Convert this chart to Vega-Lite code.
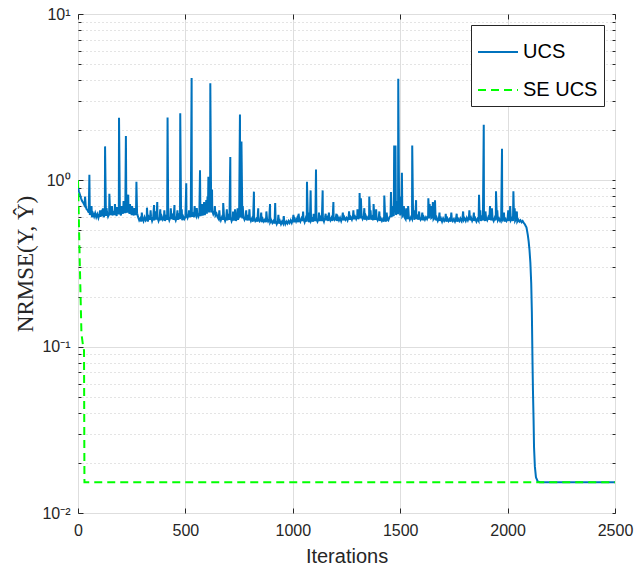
{
"$schema": "https://vega.github.io/schema/vega-lite/v6.json",
"width": 537, "height": 499,
"autosize": {"type": "none"},
"padding": {"left": 78, "top": 14, "right": 20, "bottom": 53},
"background": "white",
"config": {
  "view": {"stroke": "#262626", "strokeWidth": 1},
  "font": "Liberation Sans",
  "legend": {"orient": "top-right", "offset": 11, "symbolType": "stroke", "symbolSize": 1600, "symbolStrokeWidth": 2, "labelFontSize": 20, "labelFont": "Liberation Sans", "labelColor": "#000000", "strokeColor": "#262626", "fillColor": "white", "padding": 6, "rowPadding": 7, "labelOffset": 4, "labelLimit": 200}
},
"data": {"values": [
{"i":0,"e":0.91,"m":"UCS"},{"i":4,"e":0.86,"m":"UCS"},{"i":9,"e":0.82,"m":"UCS"},{"i":14,"e":0.78,"m":"UCS"},{"i":19,"e":0.75,"m":"UCS"},{"i":25,"e":0.73,"m":"UCS"},{"i":30,"e":0.71,"m":"UCS"},{"i":36,"e":0.7,"m":"UCS"},{"i":40,"e":0.67,"m":"UCS"},
{"i":45,"e":0.66,"m":"UCS"},{"i":50,"e":0.64,"m":"UCS"},{"i":55,"e":0.62,"m":"UCS"},{"i":60,"e":0.645,"m":"UCS"},{"i":65,"e":0.6,"m":"UCS"},{"i":70,"e":0.63,"m":"UCS"},{"i":75,"e":0.605,"m":"UCS"},{"i":80,"e":0.635,"m":"UCS"},{"i":85,"e":0.6,"m":"UCS"},{"i":90,"e":0.625,"m":"UCS"},{"i":95,"e":0.595,"m":"UCS"},{"i":100,"e":0.63,"m":"UCS"},{"i":105,"e":0.605,"m":"UCS"},{"i":110,"e":0.64,"m":"UCS"},{"i":115,"e":0.61,"m":"UCS"},{"i":120,"e":0.6,"m":"UCS"},{"i":125,"e":0.63,"m":"UCS"},{"i":130,"e":0.61,"m":"UCS"},{"i":135,"e":0.645,"m":"UCS"},{"i":140,"e":0.605,"m":"UCS"},{"i":145,"e":0.625,"m":"UCS"},
{"i":150,"e":0.62,"m":"UCS"},{"i":155,"e":0.65,"m":"UCS"},{"i":160,"e":0.615,"m":"UCS"},{"i":165,"e":0.655,"m":"UCS"},{"i":170,"e":0.62,"m":"UCS"},{"i":175,"e":0.645,"m":"UCS"},{"i":180,"e":0.61,"m":"UCS"},{"i":185,"e":0.66,"m":"UCS"},{"i":190,"e":0.625,"m":"UCS"},{"i":195,"e":0.645,"m":"UCS"},{"i":200,"e":0.615,"m":"UCS"},{"i":205,"e":0.66,"m":"UCS"},{"i":210,"e":0.63,"m":"UCS"},{"i":215,"e":0.665,"m":"UCS"},{"i":220,"e":0.635,"m":"UCS"},{"i":225,"e":0.67,"m":"UCS"},{"i":230,"e":0.64,"m":"UCS"},{"i":235,"e":0.665,"m":"UCS"},{"i":240,"e":0.63,"m":"UCS"},{"i":245,"e":0.655,"m":"UCS"},{"i":250,"e":0.62,"m":"UCS"},{"i":255,"e":0.65,"m":"UCS"},{"i":260,"e":0.615,"m":"UCS"},{"i":265,"e":0.645,"m":"UCS"},{"i":270,"e":0.62,"m":"UCS"},{"i":275,"e":0.635,"m":"UCS"},
{"i":280,"e":0.6,"m":"UCS"},{"i":285,"e":0.575,"m":"UCS"},{"i":290,"e":0.59,"m":"UCS"},{"i":295,"e":0.565,"m":"UCS"},{"i":300,"e":0.595,"m":"UCS"},{"i":305,"e":0.57,"m":"UCS"},{"i":310,"e":0.6,"m":"UCS"},{"i":315,"e":0.575,"m":"UCS"},{"i":320,"e":0.59,"m":"UCS"},{"i":325,"e":0.565,"m":"UCS"},{"i":330,"e":0.6,"m":"UCS"},{"i":335,"e":0.58,"m":"UCS"},{"i":340,"e":0.605,"m":"UCS"},{"i":345,"e":0.57,"m":"UCS"},{"i":350,"e":0.595,"m":"UCS"},{"i":355,"e":0.575,"m":"UCS"},{"i":360,"e":0.605,"m":"UCS"},{"i":365,"e":0.58,"m":"UCS"},{"i":370,"e":0.6,"m":"UCS"},{"i":375,"e":0.57,"m":"UCS"},{"i":380,"e":0.595,"m":"UCS"},{"i":385,"e":0.575,"m":"UCS"},{"i":390,"e":0.605,"m":"UCS"},{"i":395,"e":0.58,"m":"UCS"},{"i":400,"e":0.595,"m":"UCS"},{"i":405,"e":0.57,"m":"UCS"},{"i":410,"e":0.6,"m":"UCS"},{"i":415,"e":0.58,"m":"UCS"},{"i":420,"e":0.605,"m":"UCS"},{"i":425,"e":0.575,"m":"UCS"},{"i":430,"e":0.6,"m":"UCS"},{"i":435,"e":0.585,"m":"UCS"},{"i":440,"e":0.61,"m":"UCS"},{"i":445,"e":0.58,"m":"UCS"},{"i":450,"e":0.6,"m":"UCS"},{"i":455,"e":0.575,"m":"UCS"},{"i":460,"e":0.605,"m":"UCS"},{"i":465,"e":0.58,"m":"UCS"},{"i":470,"e":0.61,"m":"UCS"},{"i":475,"e":0.585,"m":"UCS"},{"i":480,"e":0.6,"m":"UCS"},{"i":485,"e":0.575,"m":"UCS"},{"i":490,"e":0.605,"m":"UCS"},{"i":495,"e":0.585,"m":"UCS"},
{"i":500,"e":0.6,"m":"UCS"},{"i":505,"e":0.62,"m":"UCS"},{"i":510,"e":0.595,"m":"UCS"},{"i":515,"e":0.625,"m":"UCS"},{"i":520,"e":0.6,"m":"UCS"},{"i":525,"e":0.63,"m":"UCS"},{"i":530,"e":0.605,"m":"UCS"},{"i":535,"e":0.625,"m":"UCS"},{"i":540,"e":0.6,"m":"UCS"},{"i":545,"e":0.63,"m":"UCS"},{"i":550,"e":0.61,"m":"UCS"},{"i":555,"e":0.635,"m":"UCS"},{"i":560,"e":0.605,"m":"UCS"},{"i":565,"e":0.63,"m":"UCS"},{"i":570,"e":0.61,"m":"UCS"},{"i":575,"e":0.64,"m":"UCS"},{"i":580,"e":0.615,"m":"UCS"},{"i":585,"e":0.645,"m":"UCS"},{"i":590,"e":0.62,"m":"UCS"},{"i":595,"e":0.65,"m":"UCS"},{"i":600,"e":0.63,"m":"UCS"},{"i":605,"e":0.66,"m":"UCS"},{"i":610,"e":0.64,"m":"UCS"},{"i":615,"e":0.665,"m":"UCS"},{"i":620,"e":0.64,"m":"UCS"},{"i":625,"e":0.655,"m":"UCS"},{"i":630,"e":0.625,"m":"UCS"},{"i":635,"e":0.645,"m":"UCS"},{"i":640,"e":0.615,"m":"UCS"},{"i":645,"e":0.63,"m":"UCS"},
{"i":650,"e":0.6,"m":"UCS"},{"i":655,"e":0.585,"m":"UCS"},{"i":660,"e":0.605,"m":"UCS"},{"i":665,"e":0.575,"m":"UCS"},{"i":670,"e":0.6,"m":"UCS"},{"i":675,"e":0.58,"m":"UCS"},{"i":680,"e":0.6,"m":"UCS"},{"i":685,"e":0.57,"m":"UCS"},{"i":690,"e":0.595,"m":"UCS"},{"i":695,"e":0.575,"m":"UCS"},{"i":700,"e":0.605,"m":"UCS"},{"i":705,"e":0.58,"m":"UCS"},{"i":710,"e":0.6,"m":"UCS"},{"i":715,"e":0.57,"m":"UCS"},{"i":720,"e":0.595,"m":"UCS"},{"i":725,"e":0.575,"m":"UCS"},{"i":730,"e":0.6,"m":"UCS"},{"i":735,"e":0.57,"m":"UCS"},{"i":740,"e":0.59,"m":"UCS"},{"i":745,"e":0.58,"m":"UCS"},{"i":750,"e":0.605,"m":"UCS"},{"i":755,"e":0.6,"m":"UCS"},{"i":760,"e":0.62,"m":"UCS"},{"i":765,"e":0.59,"m":"UCS"},{"i":770,"e":0.605,"m":"UCS"},{"i":775,"e":0.58,"m":"UCS"},{"i":780,"e":0.6,"m":"UCS"},{"i":785,"e":0.575,"m":"UCS"},{"i":790,"e":0.6,"m":"UCS"},{"i":795,"e":0.575,"m":"UCS"},
{"i":800,"e":0.595,"m":"UCS"},{"i":805,"e":0.57,"m":"UCS"},{"i":810,"e":0.59,"m":"UCS"},{"i":815,"e":0.565,"m":"UCS"},{"i":820,"e":0.59,"m":"UCS"},{"i":825,"e":0.57,"m":"UCS"},{"i":830,"e":0.585,"m":"UCS"},{"i":835,"e":0.565,"m":"UCS"},{"i":840,"e":0.59,"m":"UCS"},{"i":845,"e":0.57,"m":"UCS"},{"i":850,"e":0.585,"m":"UCS"},{"i":855,"e":0.56,"m":"UCS"},{"i":860,"e":0.585,"m":"UCS"},{"i":865,"e":0.565,"m":"UCS"},{"i":870,"e":0.58,"m":"UCS"},{"i":875,"e":0.56,"m":"UCS"},{"i":880,"e":0.585,"m":"UCS"},{"i":885,"e":0.565,"m":"UCS"},{"i":890,"e":0.58,"m":"UCS"},{"i":895,"e":0.56,"m":"UCS"},
{"i":900,"e":0.575,"m":"UCS"},{"i":905,"e":0.555,"m":"UCS"},{"i":910,"e":0.57,"m":"UCS"},{"i":915,"e":0.55,"m":"UCS"},{"i":920,"e":0.57,"m":"UCS"},{"i":925,"e":0.545,"m":"UCS"},{"i":930,"e":0.565,"m":"UCS"},{"i":935,"e":0.55,"m":"UCS"},{"i":940,"e":0.57,"m":"UCS"},{"i":945,"e":0.545,"m":"UCS"},{"i":950,"e":0.565,"m":"UCS"},{"i":955,"e":0.55,"m":"UCS"},{"i":960,"e":0.57,"m":"UCS"},{"i":965,"e":0.545,"m":"UCS"},{"i":970,"e":0.565,"m":"UCS"},{"i":975,"e":0.55,"m":"UCS"},{"i":980,"e":0.57,"m":"UCS"},{"i":985,"e":0.555,"m":"UCS"},{"i":990,"e":0.575,"m":"UCS"},{"i":995,"e":0.555,"m":"UCS"},
{"i":1000,"e":0.58,"m":"UCS"},{"i":1005,"e":0.56,"m":"UCS"},{"i":1010,"e":0.585,"m":"UCS"},{"i":1015,"e":0.565,"m":"UCS"},{"i":1020,"e":0.59,"m":"UCS"},{"i":1025,"e":0.56,"m":"UCS"},{"i":1030,"e":0.585,"m":"UCS"},{"i":1035,"e":0.565,"m":"UCS"},{"i":1040,"e":0.59,"m":"UCS"},{"i":1045,"e":0.57,"m":"UCS"},{"i":1050,"e":0.585,"m":"UCS"},{"i":1055,"e":0.56,"m":"UCS"},{"i":1060,"e":0.59,"m":"UCS"},{"i":1065,"e":0.565,"m":"UCS"},{"i":1070,"e":0.585,"m":"UCS"},{"i":1075,"e":0.56,"m":"UCS"},{"i":1080,"e":0.59,"m":"UCS"},{"i":1085,"e":0.57,"m":"UCS"},{"i":1090,"e":0.585,"m":"UCS"},{"i":1095,"e":0.565,"m":"UCS"},{"i":1100,"e":0.59,"m":"UCS"},{"i":1105,"e":0.57,"m":"UCS"},{"i":1110,"e":0.585,"m":"UCS"},{"i":1115,"e":0.565,"m":"UCS"},{"i":1120,"e":0.59,"m":"UCS"},{"i":1125,"e":0.57,"m":"UCS"},{"i":1130,"e":0.595,"m":"UCS"},{"i":1135,"e":0.57,"m":"UCS"},{"i":1140,"e":0.59,"m":"UCS"},{"i":1145,"e":0.565,"m":"UCS"},
{"i":1150,"e":0.6,"m":"UCS"},{"i":1155,"e":0.575,"m":"UCS"},{"i":1160,"e":0.595,"m":"UCS"},{"i":1165,"e":0.57,"m":"UCS"},{"i":1170,"e":0.6,"m":"UCS"},{"i":1175,"e":0.575,"m":"UCS"},{"i":1180,"e":0.595,"m":"UCS"},{"i":1185,"e":0.57,"m":"UCS"},{"i":1190,"e":0.6,"m":"UCS"},{"i":1195,"e":0.58,"m":"UCS"},{"i":1200,"e":0.595,"m":"UCS"},{"i":1205,"e":0.57,"m":"UCS"},{"i":1210,"e":0.6,"m":"UCS"},{"i":1215,"e":0.575,"m":"UCS"},{"i":1220,"e":0.595,"m":"UCS"},{"i":1225,"e":0.57,"m":"UCS"},{"i":1230,"e":0.6,"m":"UCS"},{"i":1235,"e":0.575,"m":"UCS"},{"i":1240,"e":0.6,"m":"UCS"},{"i":1245,"e":0.58,"m":"UCS"},{"i":1250,"e":0.595,"m":"UCS"},{"i":1255,"e":0.575,"m":"UCS"},{"i":1260,"e":0.605,"m":"UCS"},{"i":1265,"e":0.58,"m":"UCS"},{"i":1270,"e":0.6,"m":"UCS"},{"i":1275,"e":0.58,"m":"UCS"},{"i":1280,"e":0.61,"m":"UCS"},{"i":1285,"e":0.585,"m":"UCS"},{"i":1290,"e":0.605,"m":"UCS"},{"i":1295,"e":0.585,"m":"UCS"},{"i":1300,"e":0.61,"m":"UCS"},{"i":1305,"e":0.585,"m":"UCS"},{"i":1310,"e":0.605,"m":"UCS"},{"i":1315,"e":0.59,"m":"UCS"},{"i":1320,"e":0.61,"m":"UCS"},{"i":1325,"e":0.585,"m":"UCS"},{"i":1330,"e":0.605,"m":"UCS"},{"i":1335,"e":0.58,"m":"UCS"},{"i":1340,"e":0.61,"m":"UCS"},{"i":1345,"e":0.585,"m":"UCS"},{"i":1350,"e":0.6,"m":"UCS"},{"i":1355,"e":0.58,"m":"UCS"},{"i":1360,"e":0.605,"m":"UCS"},{"i":1365,"e":0.58,"m":"UCS"},{"i":1370,"e":0.6,"m":"UCS"},{"i":1375,"e":0.575,"m":"UCS"},{"i":1380,"e":0.6,"m":"UCS"},{"i":1385,"e":0.58,"m":"UCS"},{"i":1390,"e":0.595,"m":"UCS"},{"i":1395,"e":0.575,"m":"UCS"},{"i":1400,"e":0.595,"m":"UCS"},{"i":1405,"e":0.57,"m":"UCS"},{"i":1410,"e":0.59,"m":"UCS"},{"i":1415,"e":0.57,"m":"UCS"},{"i":1420,"e":0.585,"m":"UCS"},{"i":1425,"e":0.565,"m":"UCS"},{"i":1430,"e":0.59,"m":"UCS"},{"i":1435,"e":0.565,"m":"UCS"},{"i":1440,"e":0.585,"m":"UCS"},{"i":1445,"e":0.575,"m":"UCS"},
{"i":1450,"e":0.6,"m":"UCS"},{"i":1455,"e":0.615,"m":"UCS"},{"i":1460,"e":0.6,"m":"UCS"},{"i":1465,"e":0.63,"m":"UCS"},{"i":1470,"e":0.61,"m":"UCS"},{"i":1475,"e":0.64,"m":"UCS"},{"i":1480,"e":0.62,"m":"UCS"},{"i":1485,"e":0.645,"m":"UCS"},{"i":1490,"e":0.625,"m":"UCS"},{"i":1495,"e":0.64,"m":"UCS"},{"i":1500,"e":0.615,"m":"UCS"},{"i":1505,"e":0.635,"m":"UCS"},{"i":1510,"e":0.61,"m":"UCS"},{"i":1515,"e":0.625,"m":"UCS"},
{"i":1520,"e":0.6,"m":"UCS"},{"i":1525,"e":0.585,"m":"UCS"},{"i":1530,"e":0.61,"m":"UCS"},{"i":1535,"e":0.585,"m":"UCS"},{"i":1540,"e":0.605,"m":"UCS"},{"i":1545,"e":0.58,"m":"UCS"},{"i":1550,"e":0.6,"m":"UCS"},{"i":1555,"e":0.585,"m":"UCS"},{"i":1560,"e":0.605,"m":"UCS"},{"i":1565,"e":0.58,"m":"UCS"},{"i":1570,"e":0.6,"m":"UCS"},{"i":1575,"e":0.585,"m":"UCS"},{"i":1580,"e":0.605,"m":"UCS"},{"i":1585,"e":0.58,"m":"UCS"},{"i":1590,"e":0.6,"m":"UCS"},{"i":1595,"e":0.58,"m":"UCS"},{"i":1600,"e":0.595,"m":"UCS"},{"i":1605,"e":0.575,"m":"UCS"},{"i":1610,"e":0.6,"m":"UCS"},{"i":1615,"e":0.58,"m":"UCS"},{"i":1620,"e":0.6,"m":"UCS"},{"i":1625,"e":0.585,"m":"UCS"},{"i":1630,"e":0.61,"m":"UCS"},{"i":1635,"e":0.59,"m":"UCS"},{"i":1640,"e":0.615,"m":"UCS"},{"i":1645,"e":0.595,"m":"UCS"},
{"i":1650,"e":0.605,"m":"UCS"},{"i":1655,"e":0.585,"m":"UCS"},{"i":1660,"e":0.6,"m":"UCS"},{"i":1665,"e":0.575,"m":"UCS"},{"i":1670,"e":0.595,"m":"UCS"},{"i":1675,"e":0.57,"m":"UCS"},{"i":1680,"e":0.59,"m":"UCS"},{"i":1685,"e":0.57,"m":"UCS"},{"i":1690,"e":0.59,"m":"UCS"},{"i":1695,"e":0.565,"m":"UCS"},{"i":1700,"e":0.59,"m":"UCS"},{"i":1705,"e":0.57,"m":"UCS"},{"i":1710,"e":0.585,"m":"UCS"},{"i":1715,"e":0.565,"m":"UCS"},{"i":1720,"e":0.59,"m":"UCS"},{"i":1725,"e":0.57,"m":"UCS"},{"i":1730,"e":0.585,"m":"UCS"},{"i":1735,"e":0.565,"m":"UCS"},{"i":1740,"e":0.59,"m":"UCS"},{"i":1745,"e":0.57,"m":"UCS"},{"i":1750,"e":0.585,"m":"UCS"},{"i":1755,"e":0.565,"m":"UCS"},{"i":1760,"e":0.59,"m":"UCS"},{"i":1765,"e":0.565,"m":"UCS"},{"i":1770,"e":0.585,"m":"UCS"},{"i":1775,"e":0.57,"m":"UCS"},{"i":1780,"e":0.59,"m":"UCS"},{"i":1785,"e":0.57,"m":"UCS"},{"i":1790,"e":0.595,"m":"UCS"},{"i":1795,"e":0.575,"m":"UCS"},{"i":1800,"e":0.59,"m":"UCS"},{"i":1805,"e":0.57,"m":"UCS"},{"i":1810,"e":0.595,"m":"UCS"},{"i":1815,"e":0.575,"m":"UCS"},{"i":1820,"e":0.6,"m":"UCS"},{"i":1825,"e":0.575,"m":"UCS"},{"i":1830,"e":0.595,"m":"UCS"},{"i":1835,"e":0.57,"m":"UCS"},{"i":1840,"e":0.59,"m":"UCS"},{"i":1845,"e":0.57,"m":"UCS"},{"i":1850,"e":0.59,"m":"UCS"},{"i":1855,"e":0.565,"m":"UCS"},{"i":1860,"e":0.585,"m":"UCS"},{"i":1865,"e":0.57,"m":"UCS"},{"i":1870,"e":0.59,"m":"UCS"},{"i":1875,"e":0.57,"m":"UCS"},{"i":1880,"e":0.595,"m":"UCS"},{"i":1885,"e":0.575,"m":"UCS"},{"i":1890,"e":0.59,"m":"UCS"},{"i":1895,"e":0.57,"m":"UCS"},{"i":1900,"e":0.59,"m":"UCS"},{"i":1905,"e":0.575,"m":"UCS"},{"i":1910,"e":0.6,"m":"UCS"},{"i":1915,"e":0.58,"m":"UCS"},{"i":1920,"e":0.595,"m":"UCS"},{"i":1925,"e":0.575,"m":"UCS"},{"i":1930,"e":0.59,"m":"UCS"},{"i":1935,"e":0.57,"m":"UCS"},{"i":1940,"e":0.595,"m":"UCS"},{"i":1945,"e":0.575,"m":"UCS"},{"i":1950,"e":0.6,"m":"UCS"},{"i":1955,"e":0.575,"m":"UCS"},{"i":1960,"e":0.59,"m":"UCS"},{"i":1965,"e":0.57,"m":"UCS"},{"i":1970,"e":0.59,"m":"UCS"},{"i":1975,"e":0.575,"m":"UCS"},{"i":1980,"e":0.59,"m":"UCS"},{"i":1985,"e":0.565,"m":"UCS"},{"i":1990,"e":0.585,"m":"UCS"},{"i":1995,"e":0.57,"m":"UCS"},{"i":2000,"e":0.59,"m":"UCS"},{"i":2005,"e":0.57,"m":"UCS"},{"i":2010,"e":0.595,"m":"UCS"},{"i":2015,"e":0.575,"m":"UCS"},{"i":2020,"e":0.59,"m":"UCS"},{"i":2025,"e":0.57,"m":"UCS"},{"i":2030,"e":0.585,"m":"UCS"},{"i":2035,"e":0.57,"m":"UCS"},{"i":2040,"e":0.585,"m":"UCS"},{"i":2045,"e":0.565,"m":"UCS"},
{"i":2050,"e":0.58,"m":"UCS"},{"i":2055,"e":0.565,"m":"UCS"},{"i":2060,"e":0.575,"m":"UCS"},{"i":2065,"e":0.56,"m":"UCS"},{"i":2070,"e":0.57,"m":"UCS"},{"i":2075,"e":0.555,"m":"UCS"},
{"i":2080,"e":0.545,"m":"UCS"},{"i":2088,"e":0.52,"m":"UCS"},{"i":2094,"e":0.47,"m":"UCS"},{"i":2098,"e":0.43,"m":"UCS"},{"i":2102,"e":0.38,"m":"UCS"},{"i":2106,"e":0.32,"m":"UCS"},{"i":2110,"e":0.24,"m":"UCS"},{"i":2113,"e":0.16,"m":"UCS"},{"i":2116,"e":0.08,"m":"UCS"},{"i":2118,"e":0.055,"m":"UCS"},{"i":2121,"e":0.036,"m":"UCS"},{"i":2123,"e":0.025,"m":"UCS"},{"i":2127,"e":0.019,"m":"UCS"},{"i":2132,"e":0.0164,"m":"UCS"},{"i":2140,"e":0.0155,"m":"UCS"},{"i":2150,"e":0.0153,"m":"UCS"},{"i":2500,"e":0.0153,"m":"UCS"},
{"i":33,"e":0.8,"m":"UCS"},{"i":53,"e":1.08,"m":"UCS"},{"i":116,"e":0.68,"m":"UCS"},{"i":126,"e":1.6,"m":"UCS"},{"i":146,"e":0.83,"m":"UCS"},{"i":191,"e":2.38,"m":"UCS"},{"i":216,"e":0.7,"m":"UCS"},{"i":223,"e":1.85,"m":"UCS"},{"i":234,"e":0.82,"m":"UCS"},{"i":242,"e":0.72,"m":"UCS"},{"i":272,"e":0.98,"m":"UCS"},{"i":321,"e":0.685,"m":"UCS"},{"i":354,"e":0.71,"m":"UCS"},{"i":369,"e":0.74,"m":"UCS"},{"i":417,"e":2.39,"m":"UCS"},{"i":449,"e":0.71,"m":"UCS"},{"i":476,"e":2.53,"m":"UCS"},{"i":504,"e":0.96,"m":"UCS"},{"i":529,"e":4.12,"m":"UCS"},{"i":568,"e":1.15,"m":"UCS"},{"i":587,"e":0.74,"m":"UCS"},{"i":607,"e":1.05,"m":"UCS"},{"i":616,"e":3.83,"m":"UCS"},{"i":624,"e":0.88,"m":"UCS"},{"i":676,"e":0.73,"m":"UCS"},{"i":709,"e":1.38,"m":"UCS"},{"i":731,"e":0.67,"m":"UCS"},{"i":754,"e":2.49,"m":"UCS"},{"i":761,"e":1.71,"m":"UCS"},{"i":819,"e":0.855,"m":"UCS"},{"i":839,"e":0.68,"m":"UCS"},{"i":894,"e":0.72,"m":"UCS"},{"i":918,"e":0.73,"m":"UCS"},{"i":1066,"e":0.98,"m":"UCS"},{"i":1083,"e":0.87,"m":"UCS"},{"i":1108,"e":1.16,"m":"UCS"},{"i":1139,"e":0.87,"m":"UCS"},{"i":1189,"e":0.74,"m":"UCS"},{"i":1311,"e":0.84,"m":"UCS"},{"i":1317,"e":0.78,"m":"UCS"},{"i":1356,"e":0.8,"m":"UCS"},{"i":1376,"e":0.72,"m":"UCS"},{"i":1426,"e":0.81,"m":"UCS"},{"i":1457,"e":0.85,"m":"UCS"},{"i":1472,"e":1.62,"m":"UCS"},{"i":1478,"e":1.62,"m":"UCS"},{"i":1491,"e":4.08,"m":"UCS"},{"i":1508,"e":1.11,"m":"UCS"},{"i":1556,"e":1.62,"m":"UCS"},{"i":1574,"e":0.76,"m":"UCS"},{"i":1631,"e":0.78,"m":"UCS"},{"i":1662,"e":0.76,"m":"UCS"},{"i":1867,"e":0.82,"m":"UCS"},{"i":1889,"e":2.16,"m":"UCS"},{"i":1918,"e":0.7,"m":"UCS"},{"i":1946,"e":0.86,"m":"UCS"},{"i":1974,"e":1.55,"m":"UCS"},{"i":2027,"e":0.86,"m":"UCS"},
{"i":63,"e":0.7,"m":"UCS"},{"i":103,"e":0.66,"m":"UCS"},{"i":133,"e":0.68,"m":"UCS"},{"i":158,"e":0.7,"m":"UCS"},{"i":172,"e":0.72,"m":"UCS"},{"i":181,"e":0.69,"m":"UCS"},{"i":203,"e":0.7,"m":"UCS"},{"i":212,"e":0.75,"m":"UCS"},{"i":231,"e":0.78,"m":"UCS"},{"i":252,"e":0.7,"m":"UCS"},{"i":263,"e":0.68,"m":"UCS"},{"i":297,"e":0.64,"m":"UCS"},{"i":338,"e":0.66,"m":"UCS"},{"i":362,"e":0.65,"m":"UCS"},{"i":383,"e":0.67,"m":"UCS"},{"i":402,"e":0.66,"m":"UCS"},{"i":432,"e":0.68,"m":"UCS"},{"i":463,"e":0.66,"m":"UCS"},{"i":483,"e":0.67,"m":"UCS"},{"i":517,"e":0.66,"m":"UCS"},{"i":543,"e":0.7,"m":"UCS"},{"i":553,"e":0.68,"m":"UCS"},{"i":577,"e":0.72,"m":"UCS"},{"i":597,"e":0.76,"m":"UCS"},{"i":603,"e":0.8,"m":"UCS"},{"i":612,"e":0.85,"m":"UCS"},{"i":621,"e":0.78,"m":"UCS"},{"i":637,"e":0.7,"m":"UCS"},{"i":658,"e":0.66,"m":"UCS"},{"i":693,"e":0.67,"m":"UCS"},{"i":722,"e":0.65,"m":"UCS"},{"i":743,"e":0.68,"m":"UCS"},{"i":767,"e":0.7,"m":"UCS"},{"i":783,"e":0.66,"m":"UCS"},{"i":798,"e":0.67,"m":"UCS"},{"i":853,"e":0.64,"m":"UCS"},{"i":877,"e":0.65,"m":"UCS"},{"i":933,"e":0.62,"m":"UCS"},{"i":958,"e":0.61,"m":"UCS"},{"i":1003,"e":0.62,"m":"UCS"},{"i":1027,"e":0.63,"m":"UCS"},{"i":1048,"e":0.65,"m":"UCS"},{"i":1073,"e":0.64,"m":"UCS"},{"i":1097,"e":0.63,"m":"UCS"},{"i":1122,"e":0.64,"m":"UCS"},{"i":1153,"e":0.63,"m":"UCS"},{"i":1168,"e":0.64,"m":"UCS"},{"i":1203,"e":0.63,"m":"UCS"},{"i":1233,"e":0.64,"m":"UCS"},{"i":1262,"e":0.65,"m":"UCS"},{"i":1282,"e":0.66,"m":"UCS"},{"i":1301,"e":0.67,"m":"UCS"},{"i":1333,"e":0.68,"m":"UCS"},{"i":1362,"e":0.66,"m":"UCS"},{"i":1388,"e":0.67,"m":"UCS"},{"i":1403,"e":0.65,"m":"UCS"},{"i":1437,"e":0.64,"m":"UCS"},{"i":1463,"e":0.7,"m":"UCS"},{"i":1486,"e":0.75,"m":"UCS"},{"i":1497,"e":0.8,"m":"UCS"},{"i":1503,"e":0.72,"m":"UCS"},{"i":1517,"e":0.7,"m":"UCS"},{"i":1528,"e":0.68,"m":"UCS"},{"i":1537,"e":0.7,"m":"UCS"},{"i":1563,"e":0.66,"m":"UCS"},{"i":1588,"e":0.65,"m":"UCS"},{"i":1603,"e":0.64,"m":"UCS"},{"i":1637,"e":0.72,"m":"UCS"},{"i":1643,"e":0.7,"m":"UCS"},{"i":1652,"e":0.74,"m":"UCS"},{"i":1683,"e":0.64,"m":"UCS"},{"i":1712,"e":0.63,"m":"UCS"},{"i":1738,"e":0.64,"m":"UCS"},{"i":1763,"e":0.63,"m":"UCS"},{"i":1793,"e":0.65,"m":"UCS"},{"i":1822,"e":0.66,"m":"UCS"},{"i":1843,"e":0.64,"m":"UCS"},{"i":1873,"e":0.66,"m":"UCS"},{"i":1897,"e":0.65,"m":"UCS"},{"i":1927,"e":0.68,"m":"UCS"},{"i":1952,"e":0.66,"m":"UCS"},{"i":1983,"e":0.64,"m":"UCS"},{"i":2003,"e":0.66,"m":"UCS"},{"i":2012,"e":0.7,"m":"UCS"},{"i":2033,"e":0.68,"m":"UCS"},{"i":2043,"e":0.65,"m":"UCS"},
{"i":0,"e":1.0,"m":"SE UCS"},{"i":8,"e":0.33,"m":"SE UCS"},{"i":16,"e":0.12,"m":"SE UCS"},{"i":24,"e":0.1,"m":"SE UCS"},{"i":28,"e":0.095,"m":"SE UCS"},{"i":30,"e":0.0153,"m":"SE UCS"},{"i":2500,"e":0.0153,"m":"SE UCS"}
]},
"layer": [
  {
    "transform": [{"filter": "datum.m === 'UCS'"}],
    "mark": {"type": "line", "strokeWidth": 2, "clip": true},
    "encoding": {
      "x": {"field": "i", "type": "quantitative", "scale": {"domain": [0, 2500], "nice": false, "zero": false},
        "axis": {"orient": "bottom", "values": [0, 500, 1000, 1500, 2000, 2500], "format": "d", "grid": true, "gridColor": "#dedede", "gridWidth": 1, "domain": false, "ticks": true, "tickSize": -5, "tickColor": "#262626", "labelFontSize": 16, "labelFont": "Liberation Sans", "labelColor": "#262626", "labelPadding": 14, "labelFlush": false, "title": "Iterations", "titleFont": "Liberation Sans", "titleFontSize": 20, "titleFontWeight": "normal", "titleColor": "#262626", "titleBaseline": "alphabetic", "titleY": 49}},
      "y": {"field": "e", "type": "quantitative", "scale": {"type": "log", "domain": [0.01, 10], "nice": false},
        "axis": {"orient": "left", "values": [0.01, 0.1, 1, 10], "grid": true, "gridColor": "#dedede", "gridWidth": 1, "domain": false, "ticks": true, "tickSize": -5, "tickColor": "#262626", "labelExpr": "datum.value > 5 ? '10¹' : datum.value > 0.5 ? '10⁰' : datum.value > 0.05 ? '10⁻¹' : '10⁻²'", "labelFontSize": 16, "labelFont": "Liberation Sans", "labelColor": "#262626", "labelPadding": 13, "labelFlush": false, "title": "NRMSE(Y, Ŷ)", "titleFont": "Liberation Serif", "titleFontSize": 23, "titleFontWeight": "normal", "titleColor": "#262626", "titleBaseline": "alphabetic", "titleX": -46}},
      "color": {"field": "m", "type": "nominal", "title": null, "scale": {"domain": ["UCS", "SE UCS"], "range": ["#0072BD", "#00FF00"]}},
      "strokeDash": {"field": "m", "type": "nominal", "title": null, "scale": {"domain": ["UCS", "SE UCS"], "range": [[1, 0], [8, 5]]}}
    }
  },
  {
    "transform": [{"filter": "datum.m === 'SE UCS'"}],
    "mark": {"type": "line", "strokeWidth": 2, "clip": true},
    "encoding": {
      "x": {"field": "i", "type": "quantitative", "axis": null},
      "y": {"field": "e", "type": "quantitative", "axis": null},
      "color": {"field": "m", "type": "nominal", "title": null},
      "strokeDash": {"field": "m", "type": "nominal", "title": null}
    }
  },
  {
    "mark": {"type": "point", "opacity": 0},
    "encoding": {
      "x": {"field": "i", "type": "quantitative",
        "axis": {"orient": "top", "values": [0, 500, 1000, 1500, 2000, 2500], "grid": false, "domain": false, "labels": false, "ticks": true, "tickSize": -5, "tickColor": "#262626", "title": null}},
      "y": {"field": "e", "type": "quantitative",
        "axis": {"orient": "right", "values": [0.01, 0.02, 0.03, 0.04, 0.05, 0.06, 0.07, 0.08, 0.09, 0.1, 0.2, 0.3, 0.4, 0.5, 0.6, 0.7, 0.8, 0.9, 1, 2, 3, 4, 5, 6, 7, 8, 9, 10], "grid": false, "domain": false, "labels": false, "ticks": true, "tickSize": -3, "tickColor": "#262626", "title": null}}
    }
  },
  {
    "mark": {"type": "point", "opacity": 0},
    "encoding": {
      "x": {"field": "i", "type": "quantitative", "axis": null},
      "y": {"field": "e", "type": "quantitative",
        "axis": {"orient": "left", "values": [0.02, 0.03, 0.04, 0.05, 0.06, 0.07, 0.08, 0.09, 0.2, 0.3, 0.4, 0.5, 0.6, 0.7, 0.8, 0.9, 2, 3, 4, 5, 6, 7, 8, 9], "grid": true, "gridColor": "#c9c9c9", "gridDash": [1, 3], "gridWidth": 1, "domain": false, "labels": false, "ticks": true, "tickSize": -3, "tickColor": "#262626", "title": null}}
    }
  }
],
"resolve": {"axis": {"x": "independent", "y": "independent"}}
}
